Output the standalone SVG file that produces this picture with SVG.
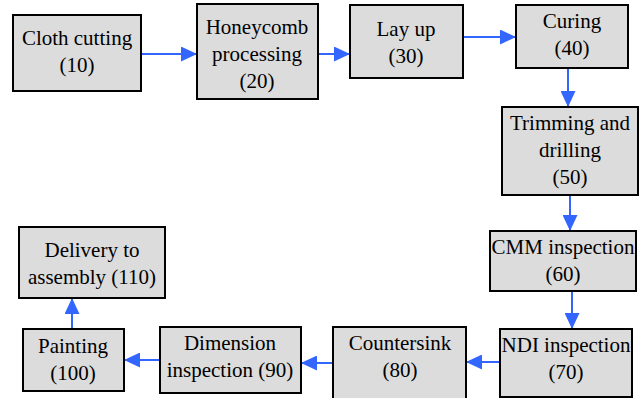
<svg xmlns="http://www.w3.org/2000/svg" width="640" height="398" viewBox="0 0 640 398">
  <style>
    .box { fill: #dcdcdc; stroke: #000; stroke-width: 2; }
    .lbl { font-family: "Liberation Serif", "Times New Roman", serif; font-size: 21px; fill: #000; text-anchor: middle; }
    .edge { stroke: #3366ff; stroke-width: 2; fill: none; marker-end: url(#arrow); }
  </style>
  <defs>
    <marker id="arrow" viewBox="0 0 16 15" refX="16" refY="7.5" markerWidth="16" markerHeight="15" markerUnits="userSpaceOnUse" orient="auto">
      <path d="M0,0 L16,7.5 L0,15 Z" fill="#3366ff"/>
    </marker>
  </defs>
  <rect width="640" height="398" fill="#fff"/>

  <g id="connectors">
    <line class="edge" x1="141" y1="54" x2="197" y2="54"/>
    <line class="edge" x1="318" y1="54" x2="350" y2="54"/>
    <line class="edge" x1="463" y1="37" x2="516" y2="37"/>
    <line class="edge" x1="568" y1="68" x2="568" y2="107"/>
    <line class="edge" x1="570" y1="195" x2="570" y2="231"/>
    <line class="edge" x1="572" y1="291" x2="572" y2="329"/>
    <line class="edge" x1="500" y1="362" x2="466" y2="362"/>
    <line class="edge" x1="333" y1="363" x2="301" y2="363"/>
    <line class="edge" x1="160" y1="360" x2="124" y2="360"/>
    <line class="edge" x1="72" y1="329" x2="72" y2="298"/>
  </g>

  <g id="n10">
    <rect class="box" x="13" y="15" width="128" height="76"/>
    <text class="lbl" x="77" y="45">Cloth cutting</text>
    <text class="lbl" x="77" y="72">(10)</text>
  </g>
  <g id="n20">
    <rect class="box" x="197" y="4" width="121" height="95"/>
    <text class="lbl" x="257" y="34">Honeycomb</text>
    <text class="lbl" x="257" y="61">processing</text>
    <text class="lbl" x="257" y="88">(20)</text>
  </g>
  <g id="n30">
    <rect class="box" x="350" y="5" width="113" height="73"/>
    <text class="lbl" x="406" y="36">Lay up</text>
    <text class="lbl" x="406" y="63">(30)</text>
  </g>
  <g id="n40">
    <rect class="box" x="516" y="5" width="112" height="63"/>
    <text class="lbl" x="572" y="28">Curing</text>
    <text class="lbl" x="572" y="55">(40)</text>
  </g>
  <g id="n50">
    <rect class="box" x="502" y="107" width="136" height="88"/>
    <text class="lbl" x="570" y="130">Trimming and</text>
    <text class="lbl" x="570" y="157">drilling</text>
    <text class="lbl" x="570" y="184">(50)</text>
  </g>
  <g id="n60">
    <rect class="box" x="490" y="231" width="146" height="60"/>
    <text class="lbl" x="563" y="254">CMM inspection</text>
    <text class="lbl" x="563" y="281">(60)</text>
  </g>
  <g id="n70">
    <rect class="box" x="500" y="329" width="132" height="68"/>
    <text class="lbl" x="566" y="352">NDI inspection</text>
    <text class="lbl" x="566" y="379">(70)</text>
  </g>
  <g id="n80">
    <rect class="box" x="333" y="327" width="133" height="72"/>
    <text class="lbl" x="400" y="350">Countersink</text>
    <text class="lbl" x="400" y="377">(80)</text>
  </g>
  <g id="n90">
    <rect class="box" x="160" y="327" width="141" height="66"/>
    <text class="lbl" x="230" y="350">Dimension</text>
    <text class="lbl" x="230" y="377">inspection (90)</text>
  </g>
  <g id="n100">
    <rect class="box" x="23" y="329" width="101" height="62"/>
    <text class="lbl" x="73" y="353">Painting</text>
    <text class="lbl" x="73" y="380">(100)</text>
  </g>
  <g id="n110">
    <rect class="box" x="19" y="227" width="146" height="71"/>
    <text class="lbl" x="92" y="257">Delivery to</text>
    <text class="lbl" x="92" y="284">assembly (110)</text>
  </g>
</svg>
